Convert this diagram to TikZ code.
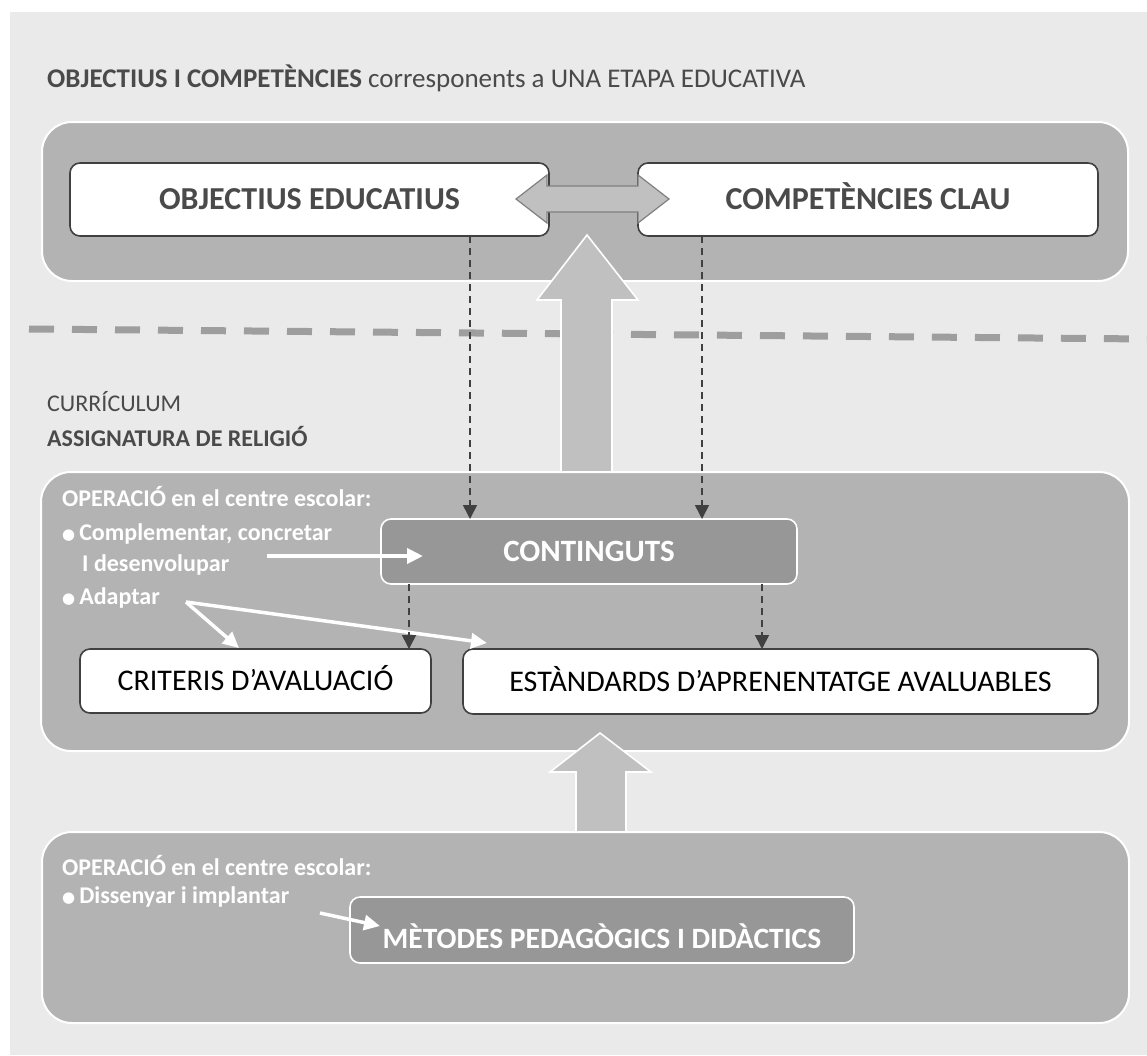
\documentclass[tikz,border=0pt]{standalone}
\usepackage{fontspec}
\setmainfont{Carlito}
\newfontfamily\dotfont{DejaVu Sans}
\usetikzlibrary{arrows.meta}

\definecolor{bggray}{HTML}{EAEAEA}
\definecolor{panelgray}{HTML}{B3B3B3}
\definecolor{darkbox}{HTML}{979797}
\definecolor{arrowgray}{HTML}{C0C0C0}
\definecolor{sepgray}{HTML}{9E9E9E}
\definecolor{linegray}{HTML}{404040}
\definecolor{txtgray}{HTML}{4A4A4A}

\newcommand{\blt}{\raisebox{1pt}{\dotfont\fontsize{15}{15}\selectfont ●}\hspace{4pt}}

\tikzset{
  panel/.style={draw=white, line width=2pt, fill=panelgray, rounded corners=30pt,
    inner sep=0pt, outer sep=0pt},
  whitebox/.style={draw=linegray, line width=1.6pt, fill=white, rounded corners=10pt,
    inner sep=0pt, outer sep=0pt},
  darkbox/.style={draw=white, line width=1.6pt, fill=darkbox, rounded corners=10pt,
    inner sep=0pt, outer sep=0pt, text=white, text depth=0pt,
    font=\bfseries\fontsize{31}{31}\selectfont, text height=20pt},
  headtxt/.style={text=txtgray, text height=20.5pt, text depth=0pt,
    font=\bfseries\fontsize{32}{32}\selectfont},
  plaintxt/.style={text=black, text height=19pt, text depth=0pt,
    font=\fontsize{30}{30}\selectfont},
  paneltxt/.style={anchor=base west, inner sep=0pt, text=white,
    font=\bfseries\fontsize{24}{24}\selectfont},
  labeltxt/.style={anchor=base west, inner sep=0pt, text=txtgray,
    font=\fontsize{24}{24}\selectfont},
  blockarrow/.style={fill=arrowgray, draw=white, line width=1.6pt},
  sepline/.style={draw=sepgray, line width=7pt, dash pattern=on 25pt off 18pt},
  conn/.style={draw=linegray, line width=1.6pt, dash pattern=on 7pt off 5pt,
    -{Triangle[width=14pt,length=14pt]}},
  warrow/.style={draw=white, line width=4pt, -{Triangle[width=15pt,length=16pt]}}
}

\begin{document}
\begin{tikzpicture}[x=1pt,y=-1pt]
  \useasboundingbox (0,0) rectangle (1147,1055);
  \fill[bggray] (10,12) rectangle (1147,1055);

  % heading of the upper part
  \node[labeltxt, font=\fontsize{27}{27}\selectfont] (ttl) at (47,87) {\textbf{OBJECTIUS I COMPETÈNCIES} corresponents a UNA ETAPA EDUCATIVA};

  % upper panel with its two boxes
  \node[panel, minimum width=1086pt, minimum height=159pt] (pTop) at (585,201.5) {};
  \node[whitebox, headtxt, minimum width=479pt, minimum height=73pt] (objEdu) at (309.5,199.5) {OBJECTIUS EDUCATIUS};
  \node[whitebox, headtxt, minimum width=460pt, minimum height=73pt] (compClau) at (868,199.5) {COMPETÈNCIES CLAU};

  % double arrow between the boxes
  \filldraw[fill=arrowgray, draw=gray, line width=1.2pt]
    (516,199) -- (547,175) -- (547,186) -- (638,186) -- (638,175) -- (669,199)
    -- (638,223) -- (638,212) -- (547,212) -- (547,223) -- cycle;

  % dividing line
  \draw[sepline] (29,329) -- (1147,339);

  % big arrow up from the curriculum
  \filldraw[blockarrow] (587,235) -- (638,300) -- (612,300) -- (612,472)
    -- (561,472) -- (561,300) -- (537,300) -- cycle;

  \node[labeltxt] (curr) at (47,411) {CURRÍCULUM};
  \node[labeltxt, font=\bfseries\fontsize{24}{24}\selectfont] (assig) at (47,446) {ASSIGNATURA DE RELIGIÓ};

  % middle panel
  \node[panel, minimum width=1088pt, minimum height=279pt] (pMid) at (585,611.5) {};
  \node[darkbox, minimum width=416pt, minimum height=65pt] (contin) at (589,551.5) {CONTINGUTS};
  \node[whitebox, plaintxt, minimum width=351pt, minimum height=64pt] (criteris) at (255.5,681) {CRITERIS D’AVALUACIÓ};
  \node[whitebox, plaintxt, minimum width=635pt, minimum height=65pt] (estand) at (780.5,681.5) {ESTÀNDARDS D’APRENENTATGE AVALUABLES};

  \node[paneltxt] (opMid) at (62,506) {OPERACIÓ en el centre escolar:};
  \node[paneltxt] (tCompl) at (62,540) {\blt Complementar, concretar};
  \node[paneltxt] (tDes) at (82,571) {I desenvolupar};
  \node[paneltxt] (tAdap) at (62,604) {\blt Adaptar};

  % small arrow up from the methods
  \filldraw[blockarrow] (600,733) -- (651,772) -- (626,772) -- (626,832)
    -- (576,832) -- (576,772) -- (550,772) -- cycle;

  % lower panel
  \node[panel, minimum width=1087pt, minimum height=191pt] (pBot) at (585.5,927.5) {};
  \node[darkbox, minimum width=504pt, minimum height=66pt, text height=37pt,
    font=\bfseries\fontsize{29.5}{29.5}\selectfont] (metodes) at (602,930) {MÈTODES PEDAGÒGICS I DIDÀCTICS};

  \node[paneltxt] (opBot) at (62,875) {OPERACIÓ en el centre escolar:};
  \node[paneltxt] (tDis) at (62,903) {\blt Dissenyar i implantar};

  % white arrows from the operations
  \coordinate (desA) at (267,556);
  \coordinate (adA) at (186,602);
  \coordinate (disA) at (320,913);
  \draw[warrow] (desA) -- ([xshift=42pt,yshift=-4.5pt]contin.west);
  \draw[warrow, line width=3.5pt] (adA) -- ([xshift=-16.5pt,yshift=1pt]criteris.north);
  \draw[warrow, line width=3.5pt] (adA) -- ([xshift=24pt,yshift=6pt]estand.north west);
  \draw[warrow, line width=3.5pt] (disA) -- ([xshift=30pt,yshift=4pt]metodes.west);

  % dashed links
  \draw[conn] ([xshift=160.5pt]objEdu.south) -- ([xshift=160.5pt]objEdu.south |- contin.north);
  \draw[conn] ([xshift=-166pt]compClau.south) -- ([xshift=-166pt]compClau.south |- contin.north);
  \draw[conn] ([xshift=-180pt]contin.south) -- ([xshift=-180pt]contin.south |- criteris.north);
  \draw[conn] ([xshift=173pt]contin.south) -- ([xshift=173pt]contin.south |- estand.north);
\end{tikzpicture}
\end{document}
